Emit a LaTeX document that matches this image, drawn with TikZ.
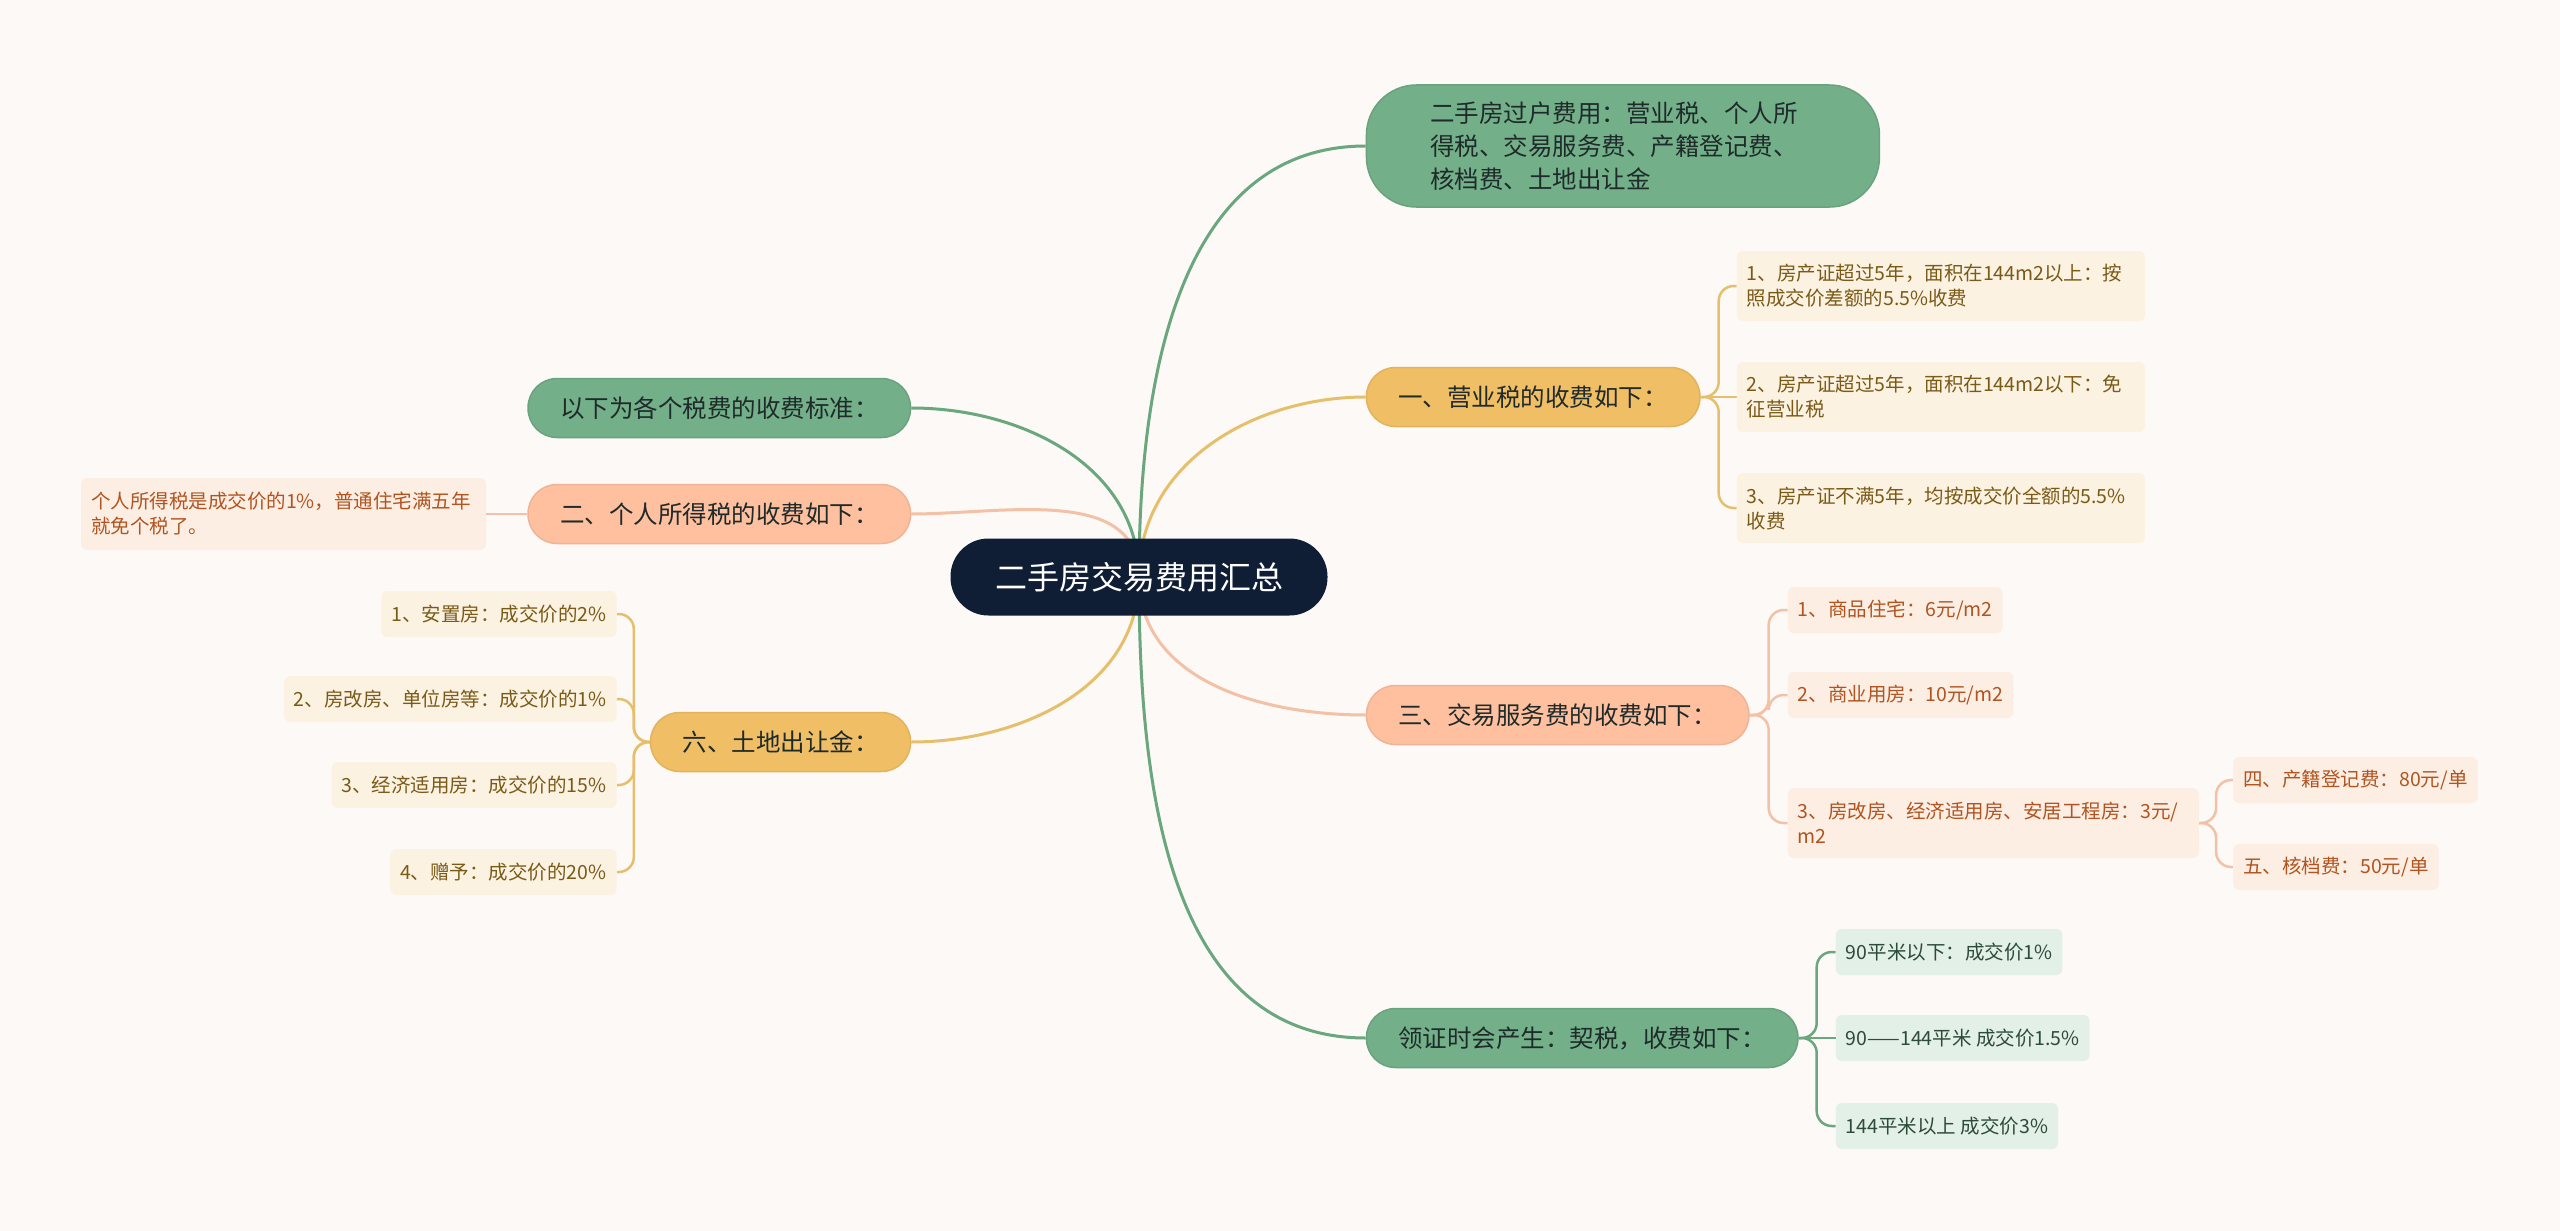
\documentclass[tikz,border=0pt]{standalone}
\usepackage{fontspec}
\setmainfont{Noto Sans CJK SC}
\usetikzlibrary{positioning}
\definecolor{HousePaper}{HTML}{FCF9F6}
\definecolor{HouseNavy}{HTML}{0F1D35}
\definecolor{HouseInk}{HTML}{1F2A2A}
\definecolor{HouseGreen}{HTML}{73B089}
\definecolor{HouseGreenLine}{HTML}{6AA67E}
\definecolor{HouseGreenLeaf}{HTML}{E3F0E7}
\definecolor{HouseGreenText}{HTML}{2E4A38}
\definecolor{HouseYellow}{HTML}{F0BE64}
\definecolor{HouseYellowLine}{HTML}{E6BF6C}
\definecolor{HouseYellowLeaf}{HTML}{FCF2E2}
\definecolor{HouseYellowText}{HTML}{7A5A17}
\definecolor{HouseSalmon}{HTML}{FEC09F}
\definecolor{HouseSalmonLine}{HTML}{F2C1A6}
\definecolor{HouseSalmonLeaf}{HTML}{FDEEE4}
\definecolor{HouseSalmonText}{HTML}{B1541F}
\pgfdeclarelayer{paper}
\pgfdeclarelayer{links}
\pgfsetlayers{paper,links,main}
\tikzset{
  house root/.style={
    fill=HouseNavy,
    text=white,
    rounded corners=38pt,
    minimum width=377pt,
    minimum height=77pt,
    inner xsep=44pt,
    font=\fontsize{32}{38}\selectfont
  },
  house topic/.style={
    line width=1.5pt,
    text=HouseInk,
    rounded corners=29pt,
    minimum height=59pt,
    inner xsep=32pt,
    inner ysep=6pt,
    font=\fontsize{24.5}{33}\selectfont
  },
  house topic green/.style={house topic,fill=HouseGreen,draw=HouseGreen!92!black},
  house topic yellow/.style={house topic,fill=HouseYellow,draw=HouseYellow!94!black},
  house topic salmon/.style={house topic,fill=HouseSalmon,draw=HouseSalmon!94!black},
  house leaf/.style={
    rounded corners=6pt,
    minimum height=46pt,
    inner xsep=10pt,
    inner ysep=8pt,
    align=left,
    font=\fontsize{19.5}{25}\selectfont
  },
  house leaf tall/.style={minimum height=70pt},
  house leaf green/.style={house leaf,fill=HouseGreenLeaf,text=HouseGreenText},
  house leaf yellow/.style={house leaf,fill=HouseYellowLeaf,text=HouseYellowText},
  house leaf salmon/.style={house leaf,fill=HouseSalmonLeaf,text=HouseSalmonText},
  house link green/.style={draw=HouseGreenLine,line width=3pt},
  house link yellow/.style={draw=HouseYellowLine,line width=3pt},
  house link salmon/.style={draw=HouseSalmonLine,line width=3pt},
  house twig green/.style={draw=HouseGreenLine,line width=2.5pt,rounded corners=15pt},
  house twig yellow/.style={draw=HouseYellowLine,line width=2.5pt,rounded corners=15pt},
  house twig salmon/.style={draw=HouseSalmonLine,line width=2.5pt,rounded corners=15pt}
}

\begin{document}
\begin{tikzpicture}[x=1pt,y=-1pt]
  \begin{pgfonlayer}{paper}
    \fill[HousePaper] (0,0) rectangle (2560,1231);
  \end{pgfonlayer}
  \useasboundingbox (0,0) rectangle (2560,1231);

  \node[house root] (root) at (1139,577) {二手房交易费用汇总};

  % right side
  \node[house topic green,align=left,text width=385pt,inner xsep=64pt,minimum height=122pt,rounded corners=50pt,
    right=38pt of root,yshift=431pt] (transfer)
    {二手房过户费用：营业税、个人所\\得税、交易服务费、产籍登记费、\\核档费、土地出让金};
  \node[house topic yellow,right=38pt of root,yshift=180pt] (business) {一、营业税的收费如下：};
  \node[house topic salmon,right=38pt of root,yshift=-138pt] (service) {三、交易服务费的收费如下：};
  \node[house topic green,right=38pt of root,yshift=-461pt] (deed) {领证时会产生：契税，收费如下：};

  \node[house leaf yellow,house leaf tall,text width=388pt,right=36pt of business,yshift=111pt] (business1)
    {1、房产证超过5年，面积在144m2以上：按\\照成交价差额的5.5\%收费};
  \node[house leaf yellow,house leaf tall,text width=388pt,right=36pt of business] (business2)
    {2、房产证超过5年，面积在144m2以下：免\\征营业税};
  \node[house leaf yellow,house leaf tall,text width=388pt,right=36pt of business,yshift=-111pt] (business3)
    {3、房产证不满5年，均按成交价全额的5.5\%\\收费};

  \node[house leaf salmon,right=38pt of service,yshift=105pt] (service1) {1、商品住宅：6元/m2};
  \node[house leaf salmon,right=38pt of service,yshift=20pt] (service2) {2、商业用房：10元/m2};
  \node[house leaf salmon,house leaf tall,text width=391pt,right=38pt of service,yshift=-108pt] (service3)
    {3、房改房、经济适用房、安居工程房：3元/\\m2};
  \node[house leaf salmon,right=34pt of service3,yshift=43pt] (register) {四、产籍登记费：80元/单};
  \node[house leaf salmon,right=34pt of service3,yshift=-44pt] (archive) {五、核档费：50元/单};

  \node[house leaf green,right=37pt of deed,yshift=86pt] (deed1) {90平米以下：成交价1\%};
  \node[house leaf green,right=37pt of deed] (deed2) {90——144平米 成交价1.5\%};
  \node[house leaf green,right=37pt of deed,yshift=-88pt] (deed3) {144平米以上 成交价3\%};

  % left side
  \node[house topic green,left=39pt of root,yshift=169pt] (rates) {以下为各个税费的收费标准：};
  \node[house topic salmon,left=39pt of root,yshift=63pt] (income) {二、个人所得税的收费如下：};
  \node[house topic yellow,left=39pt of root,yshift=-165pt] (land) {六、土地出让金：};

  \node[house leaf salmon,house leaf tall,minimum height=72pt,text width=385pt,left=41pt of income] (income1)
    {个人所得税是成交价的1\%，普通住宅满五年\\就免个税了。};

  \node[house leaf yellow,left=33pt of land,yshift=128pt] (land1) {1、安置房：成交价的2\%};
  \node[house leaf yellow,left=33pt of land,yshift=43pt] (land2) {2、房改房、单位房等：成交价的1\%};
  \node[house leaf yellow,left=33pt of land,yshift=-43pt] (land3) {3、经济适用房：成交价的15\%};
  \node[house leaf yellow,left=33pt of land,yshift=-130pt] (land4) {4、赠予：成交价的20\%};

  \begin{pgfonlayer}{links}
    \draw[house link green] (root.center) to[out=90,in=180] (transfer.west);
    \draw[house link yellow] (root.center) to[out=90,in=180] (business.west);
    \draw[house link salmon] (root.center) to[out=-90,in=180] (service.west);
    \draw[house link green] (root.center) to[out=-90,in=180] (deed.west);
    \draw[house link green] (root.center) to[out=90,in=0] (rates.east);
    \draw[house link salmon] (root.center) to[out=90,in=0] (income.east);
    \draw[house link yellow] (root.center) to[out=-90,in=0] (land.east);

    \draw[house twig yellow] (business.east) -- ++(18pt,0) |- (business1.west);
    \draw[house twig yellow] (business.east) -- (business2.west);
    \draw[house twig yellow] (business.east) -- ++(18pt,0) |- (business3.west);

    \draw[house twig salmon] (service.east) -- ++(19pt,0) |- (service1.west);
    \draw[house twig salmon] (service.east) -- ++(19pt,0) |- (service2.west);
    \draw[house twig salmon] (service.east) -- ++(19pt,0) |- (service3.west);
    \draw[house twig salmon] (service3.east) -- ++(17pt,0) |- (register.west);
    \draw[house twig salmon] (service3.east) -- ++(17pt,0) |- (archive.west);

    \draw[house twig green] (deed.east) -- ++(18pt,0) |- (deed1.west);
    \draw[house twig green] (deed.east) -- (deed2.west);
    \draw[house twig green] (deed.east) -- ++(18pt,0) |- (deed3.west);

    \draw[house twig salmon] (income.west) -- (income1.east);

    \draw[house twig yellow] (land.west) -- ++(-16pt,0) |- (land1.east);
    \draw[house twig yellow] (land.west) -- ++(-16pt,0) |- (land2.east);
    \draw[house twig yellow] (land.west) -- ++(-16pt,0) |- (land3.east);
    \draw[house twig yellow] (land.west) -- ++(-16pt,0) |- (land4.east);
  \end{pgfonlayer}
\end{tikzpicture}
\end{document}
